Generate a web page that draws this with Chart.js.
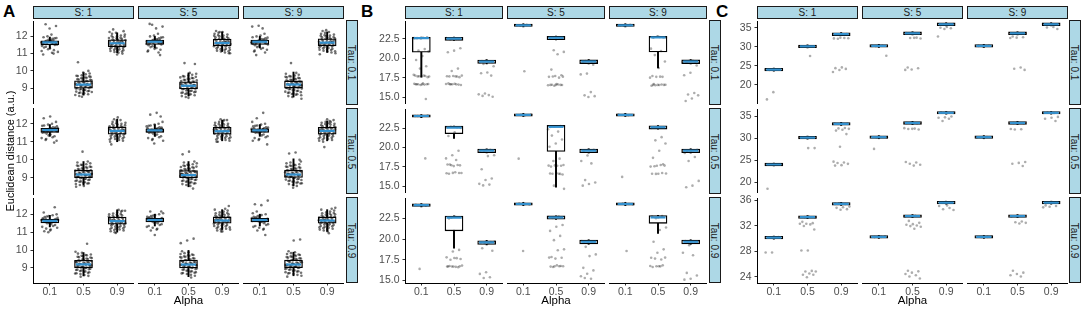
<!DOCTYPE html>
<html>
<head>
<meta charset="utf-8">
<script src="https://cdn.jsdelivr.net/npm/chart.js@4.4.1/dist/chart.umd.min.js"></script>
<style>
    body { margin: 0; width: 1084px; height: 309px; overflow: hidden; position: relative; background: #fff;
           font-family: 'Liberation Sans', Arial, sans-serif; }
    canvas { position: absolute; }
    .strip { position: absolute; box-sizing: border-box; background: #add8e6; border: 1.5px solid #1a1a1a;
             font-size: 10px; color: #1a1a1a; display: flex; align-items: center; justify-content: center; }
    .strip.v span { transform: rotate(90deg); white-space: nowrap; }
    .tag { position: absolute; top: 2px; font-weight: bold; font-size: 17px; color: #000; }
</style>
</head>
<body>
<script>
// ---- labels ----
const alphaLabels = ['0.1', '0.5', '0.9'];
const sLabels = ['S: 1', 'S: 5', 'S: 9'];
const tauLabels = ['Tau: 0.1', 'Tau: 0.5', 'Tau: 0.9'];

// y tick labels per panel and row
const tickLabelsA = [['9', '10', '11', '12'], ['9', '10', '11', '12'], ['9', '10', '11', '12']];
const tickLabelsB = [['15.0', '17.5', '20.0', '22.5'], ['15.0', '17.5', '20.0', '22.5'], ['15.0', '17.5', '20.0', '22.5']];
const tickLabelsC = [['20', '25', '30', '35'], ['20', '25', '30', '35'], ['24', '28', '32', '36']];

// y ranges per row [min, max]
const rangesA = [[8.1, 12.87], [8.1, 12.87], [8.15, 12.9]];
const rangesB = [[14.2, 24.76], [14.15, 24.97], [14.7, 24.93]];
const rangesC = [[15.07, 36.69], [17.6, 36.67], [23.0, 36.3]];

// box stats [lower whisker, q1, median, q3, upper whisker], indexed [tau][s][alpha]
const boxA = [
    [[[11.3, 11.5, 11.65, 11.74, 11.95], [8.6, 9.0, 9.2, 9.42, 9.9], [11.05, 11.4, 11.6, 11.8, 12.2]],
     [[11.3, 11.5, 11.65, 11.74, 11.95], [8.6, 9.0, 9.18, 9.4, 9.9], [11.1, 11.42, 11.58, 11.8, 12.2]],
     [[11.3, 11.5, 11.65, 11.74, 11.95], [8.55, 9.05, 9.25, 9.45, 9.95], [11.05, 11.42, 11.6, 11.82, 12.2]]],
    [[[11.3, 11.52, 11.65, 11.74, 11.95], [8.6, 9.0, 9.18, 9.42, 9.9], [11.0, 11.42, 11.6, 11.82, 12.25]],
     [[11.3, 11.52, 11.63, 11.72, 11.95], [8.5, 9.0, 9.15, 9.4, 9.9], [11.05, 11.42, 11.58, 11.8, 12.2]],
     [[11.3, 11.52, 11.63, 11.72, 11.95], [8.55, 9.02, 9.18, 9.42, 10.05], [11.05, 11.42, 11.6, 11.8, 12.15]]],
    [[[11.3, 11.52, 11.63, 11.72, 11.95], [8.55, 9.0, 9.2, 9.42, 9.85], [11.0, 11.45, 11.62, 11.85, 12.25]],
     [[11.3, 11.52, 11.63, 11.72, 11.95], [8.5, 8.98, 9.17, 9.42, 9.95], [11.1, 11.45, 11.6, 11.8, 12.2]],
     [[11.3, 11.52, 11.63, 11.72, 11.95], [8.55, 9.0, 9.17, 9.42, 9.85], [11.0, 11.45, 11.6, 11.8, 12.2]]]
];

const boxB = [
    [[[17.6, 20.8, 22.6, 22.72, 22.75], [22.3, 22.32, 22.55, 22.72, 22.75], [19.3, 19.35, 19.6, 19.8, 19.85]],
     [[23.9, 23.95, 24.1, 24.25, 24.3], [22.3, 22.32, 22.55, 22.72, 22.75], [19.3, 19.35, 19.6, 19.8, 19.85]],
     [[23.9, 23.95, 24.1, 24.25, 24.3], [18.8, 20.8, 22.6, 22.72, 22.75], [19.3, 19.35, 19.6, 19.8, 19.85]]],
    [[[23.9, 23.95, 24.1, 24.25, 24.3], [21.2, 21.8, 22.6, 22.78, 22.8], [19.3, 19.35, 19.6, 19.8, 19.85]],
     [[23.9, 23.95, 24.1, 24.25, 24.3], [15.0, 19.5, 22.6, 22.78, 22.8], [19.3, 19.35, 19.6, 19.8, 19.85]],
     [[23.9, 23.95, 24.1, 24.25, 24.3], [22.3, 22.32, 22.55, 22.72, 22.75], [19.3, 19.35, 19.6, 19.8, 19.85]]],
    [[[23.9, 23.95, 24.1, 24.25, 24.3], [18.9, 21.0, 22.6, 22.78, 22.8], [19.3, 19.35, 19.6, 19.8, 19.85]],
     [[23.9, 23.95, 24.1, 24.25, 24.3], [22.25, 22.28, 22.5, 22.68, 22.7], [19.3, 19.35, 19.6, 19.8, 19.85]],
     [[23.9, 23.95, 24.1, 24.25, 24.3], [20.6, 21.8, 22.5, 22.72, 22.75], [19.3, 19.35, 19.6, 19.8, 19.85]]]
];

const boxC = [
    [[[23.6, 23.65, 24.0, 24.35, 24.4], [29.7, 29.75, 30.1, 30.45, 30.5], [32.9, 32.95, 33.3, 33.65, 33.7]],
     [[29.7, 29.75, 30.1, 30.45, 30.5], [32.9, 32.95, 33.3, 33.65, 33.7], [35.2, 35.25, 35.6, 35.95, 36.0]],
     [[29.7, 29.75, 30.1, 30.45, 30.5], [32.9, 32.95, 33.3, 33.65, 33.7], [35.2, 35.25, 35.6, 35.95, 36.0]]],
    [[[23.7, 23.75, 24.05, 24.35, 24.4], [29.85, 29.9, 30.2, 30.5, 30.55], [33.0, 33.05, 33.35, 33.65, 33.7]],
     [[29.85, 29.9, 30.2, 30.5, 30.55], [33.0, 33.05, 33.35, 33.65, 33.7], [35.3, 35.35, 35.6, 35.85, 35.9]],
     [[29.85, 29.9, 30.2, 30.5, 30.55], [33.0, 33.05, 33.35, 33.65, 33.7], [35.3, 35.35, 35.6, 35.85, 35.9]]],
    [[[29.9, 29.93, 30.13, 30.33, 30.36], [33.12, 33.15, 33.35, 33.55, 33.58], [35.19, 35.22, 35.42, 35.62, 35.65]],
     [[29.9, 29.93, 30.13, 30.33, 30.36], [33.12, 33.15, 33.35, 33.55, 33.58], [35.19, 35.22, 35.42, 35.62, 35.65]],
     [[29.9, 29.93, 30.13, 30.33, 30.36], [33.12, 33.15, 33.35, 33.55, 33.58], [35.19, 35.22, 35.42, 35.62, 35.65]]]
];

// jittered observations. Panel A: dense clouds shared by all facets, plus each facet's stray points
const cloudA01 = [11.65, 11.6, 11.7, 11.62, 11.68, 11.55, 11.75, 11.58, 11.66, 11.71, 11.63, 11.5, 11.8, 11.45,
    11.85, 11.4, 11.9, 11.3, 11.95, 11.2, 12.0, 11.1, 12.1, 11.67, 11.61, 11.69, 11.64, 11.57, 11.74, 11.52,
    11.78, 11.35, 11.88, 11.25, 11.15, 11.05];
const cloudA05 = [9.2, 9.15, 9.25, 9.1, 9.3, 9.05, 9.35, 9.0, 9.4, 8.95, 9.45, 8.9, 9.5, 8.85, 9.55, 8.8, 9.6,
    8.75, 9.65, 8.7, 9.7, 8.65, 9.75, 8.6, 9.8, 8.55, 9.85, 9.9, 9.18, 9.22, 9.12, 9.28, 9.08, 9.33, 9.02, 9.38,
    8.98, 9.42, 8.92, 9.48, 8.88, 9.52, 8.82, 9.58, 8.78, 9.62, 8.72, 9.68, 8.68, 9.72, 9.21, 9.16, 9.07, 9.31];
const cloudA09 = [11.6, 11.55, 11.65, 11.5, 11.7, 11.45, 11.75, 11.4, 11.8, 11.35, 11.85, 11.3, 11.9, 11.25,
    11.95, 11.2, 12.0, 11.15, 12.05, 11.1, 12.1, 11.05, 12.15, 11.0, 12.2, 12.25, 11.58, 11.62, 11.52, 11.68,
    11.48, 11.72, 11.42, 11.78, 11.38, 11.82, 11.32, 11.88, 11.28, 11.92, 11.22, 11.98, 11.18, 12.02, 11.12,
    11.61, 11.57, 11.66];
const strayA = [
    [[[12.7, 12.6, 12.45, 10.95, 11.0], [10.5, 10.0, 8.5], [12.4, 12.3, 10.95]],
     [[12.6, 12.5, 12.4, 12.65, 10.9], [10.45, 10.4, 8.5], [12.2, 11.0]],
     [[12.55, 12.5, 12.4, 10.9], [10.45, 8.45], [12.3, 10.95]]],
    [[[12.4, 12.3, 10.95], [10.45, 8.5], [12.35, 10.85]],
     [[12.6, 12.5, 12.4, 10.9], [10.45, 10.3, 8.4], [12.2, 11.0]],
     [[12.6, 12.3, 10.85], [10.4, 10.35, 10.0, 8.45], [12.1, 10.7]]],
    [[[12.4, 11.0], [10.35, 8.5], [12.2, 10.95]],
     [[12.1, 10.8], [10.6, 10.5, 10.35, 8.45], [12.4, 11.0]],
     [[12.7, 12.45, 12.5, 10.8], [10.55, 10.5, 8.5], [12.3, 10.9]]]
];
const pointsA = strayA.map(row => row.map(col => col.map((extra, a) => [...[cloudA01, cloudA05, cloudA09][a], ...extra])));

const pointsB = [
    [[[22.6, 22.65, 22.6, 22.7, 22.55, 22.6, 21.2, 21.0, 20.9, 20.3, 19.8, 19.0, 18.7, 17.9, 17.8, 17.7, 17.6, 17.7, 17.8, 17.75, 17.72, 17.68, 16.8, 16.7, 16.7, 16.6, 16.75, 16.65, 16.7, 16.72, 16.68, 16.7, 14.8],
      [22.5, 22.55, 22.6, 22.5, 22.45, 21.3, 21.0, 20.8, 18.7, 18.4, 17.8, 17.7, 17.7, 17.6, 17.75, 17.72, 17.68, 16.7, 16.6, 16.75, 16.8, 16.65, 16.7, 16.72, 16.68, 16.7],
      [19.6, 19.65, 19.55, 19.7, 19.5, 19.6, 19.3, 19.0, 18.2, 18.1, 17.8, 15.5, 15.4, 15.3, 15.2, 15.1]],
     [[24.1, 24.15, 24.05, 24.1, 18.4],
      [22.5, 22.55, 22.6, 22.5, 21.0, 20.8, 20.5, 18.6, 17.9, 17.8, 17.7, 17.6, 17.75, 17.72, 16.8, 16.7, 16.7, 16.6, 16.65, 16.75, 16.72, 16.68, 16.7],
      [19.6, 19.65, 19.55, 19.7, 19.5, 19.2, 18.1, 18.0, 15.8, 15.4, 15.3, 15.2]],
     [[24.1, 24.15, 24.05, 24.1],
      [22.6, 22.65, 22.55, 22.6, 22.7, 21.2, 20.9, 20.4, 19.6, 18.8, 17.8, 17.7, 17.7, 17.6, 17.72, 16.8, 16.7, 16.7, 16.6, 16.75, 16.65, 16.72, 16.68, 16.7],
      [19.6, 19.65, 19.55, 19.7, 19.5, 19.1, 18.2, 17.9, 15.7, 15.5, 15.4, 15.0, 14.7]]],
    [[[24.1, 24.15, 24.05, 24.1, 18.6],
      [22.6, 22.65, 22.7, 22.55, 22.0, 21.5, 19.6, 19.0, 18.6, 18.4, 17.8, 17.7, 17.6, 17.8, 17.75, 17.72, 16.7, 16.8, 16.6, 16.7, 16.72, 16.68],
      [19.6, 19.65, 19.55, 19.7, 19.5, 19.0, 18.9, 17.2, 16.0, 15.8, 15.3, 15.2, 15.1]],
     [[24.1, 24.15, 24.05, 18.6],
      [22.6, 22.7, 22.65, 22.3, 22.0, 21.5, 21.0, 20.5, 20.1, 18.6, 18.3, 17.8, 17.7, 17.6, 17.7, 17.75, 17.72, 16.7, 16.7, 16.6, 16.8, 16.72, 16.68, 15.2, 14.8],
      [19.6, 19.65, 19.55, 19.7, 19.0, 18.3, 18.0, 15.9, 15.6, 15.4, 15.2]],
     [[24.1, 24.15, 24.05, 16.3],
      [22.5, 22.55, 22.6, 22.45, 21.3, 20.9, 20.5, 19.6, 18.7, 17.9, 17.7, 17.6, 17.8, 17.65, 17.72, 16.7, 16.7, 16.8, 16.68, 16.72],
      [19.6, 19.65, 19.55, 19.7, 19.5, 19.3, 18.8, 18.3, 15.8, 15.2, 15.0]]],
    [[[24.1, 24.15, 24.05, 16.4],
      [22.6, 22.65, 22.7, 22.5, 18.7, 18.5, 17.8, 17.7, 17.5, 17.6, 17.72, 16.7, 16.6, 16.7, 16.8, 16.65, 16.75, 16.72, 16.68, 16.7],
      [19.6, 19.65, 19.55, 19.7, 19.5, 18.9, 18.6, 16.0, 15.8, 15.4, 15.3]],
     [[24.1, 24.15, 24.05, 18.5],
      [22.5, 22.55, 22.6, 22.45, 21.6, 21.4, 20.9, 20.3, 19.8, 18.7, 18.6, 17.8, 17.7, 17.6, 17.72, 16.7, 16.6, 16.7, 16.8, 16.65, 16.72, 16.68],
      [19.6, 19.65, 19.55, 19.7, 19.5, 19.0, 18.1, 17.9, 16.5, 16.2, 15.8, 15.5, 15.2, 15.3]],
     [[24.1, 24.15, 24.05, 18.5],
      [22.5, 22.6, 22.65, 22.4, 21.3, 21.0, 19.6, 18.7, 18.3, 17.7, 17.5, 17.6, 17.72, 16.7, 16.6, 16.8, 16.7, 16.72, 16.68],
      [19.6, 19.65, 19.55, 19.7, 19.5, 19.2, 18.3, 18.0, 15.9, 15.6, 15.2, 15.1]]]
];

const pointsC = [
    [[[24.0, 24.1, 23.9, 24.05, 18.1, 16.2],
      [30.1, 30.15, 30.05, 27.6],
      [33.3, 33.25, 33.35, 32.4, 32.2, 32.3, 32.1, 32.25, 24.6, 24.4, 24.2, 23.9, 23.4]],
     [[30.1, 30.15, 30.05, 27.6],
      [33.3, 33.25, 33.35, 32.2, 32.1, 32.0, 32.15, 24.6, 24.4, 24.1, 24.0],
      [35.6, 35.55, 35.65, 34.9, 34.7, 34.6, 34.4, 32.5]],
     [[30.1, 30.15, 30.05],
      [33.3, 33.25, 32.5, 32.3, 32.2, 32.1, 24.6, 24.3, 24.0],
      [35.6, 35.55, 35.65, 34.9, 34.8, 34.4]]],
    [[[24.05, 24.1, 24.0, 18.5],
      [30.2, 30.15, 30.25, 27.8, 27.8],
      [33.35, 33.3, 33.4, 32.4, 32.3, 32.2, 32.0, 31.8, 31.0, 28.1, 24.7, 24.5, 24.4, 24.2, 23.9, 23.8]],
     [[30.2, 30.15, 30.25, 27.6],
      [33.35, 33.3, 33.4, 32.2, 32.1, 32.0, 31.9, 32.05, 24.7, 24.6, 24.3, 24.1, 23.9],
      [35.6, 35.55, 35.65, 34.8, 34.6, 34.5, 34.3, 33.8]],
     [[30.2, 30.15, 30.25],
      [33.35, 33.3, 33.4, 32.0, 31.95, 31.9, 24.7, 24.5, 24.3, 23.8],
      [35.6, 35.55, 35.65, 34.7, 34.5, 34.3, 33.8]]],
    [[[30.13, 30.1, 30.2, 27.8, 27.8],
      [33.35, 33.3, 33.4, 32.6, 32.4, 32.3, 32.3, 32.2, 31.95, 31.4, 28.1, 28.1, 24.9, 24.8, 24.8, 24.5, 24.3, 24.3, 23.9],
      [35.42, 35.4, 35.5, 35.0, 34.9, 34.8, 34.6, 34.5]],
     [[30.13, 30.1, 30.2],
      [33.35, 33.3, 33.4, 32.6, 32.3, 32.1, 32.0, 31.9, 31.8, 31.7, 31.4, 24.9, 24.8, 24.6, 24.4, 24.2, 24.0, 23.7],
      [35.42, 35.4, 35.5, 34.9, 34.6, 34.4, 34.3, 35.0]],
     [[30.13, 30.1, 30.2],
      [33.35, 33.3, 32.5, 32.4, 32.3, 32.2, 24.9, 24.6, 24.4, 24.2, 24.0],
      [35.42, 35.4, 35.5, 35.0, 34.9, 34.8, 34.7]]]
];

// ---- layout ----
const rowTops = [20, 108, 197];
const rowHs = [85, 86, 86];
const panels = [
    { tag: 'A', tagX: 3, cols: [33, 138, 243], colW: 101, axisW: 30, tauX: 346, title: 'Euclidean distance (a.u.)',
      box: boxA, pts: pointsA, ranges: rangesA, ticks: tickLabelsA, dot: 'rgba(0,0,0,0.55)' },
    { tag: 'B', tagX: 361, cols: [405, 507, 609], colW: 98, axisW: 35, tauX: 708.5, title: '',
      box: boxB, pts: pointsB, ranges: rangesB, ticks: tickLabelsB, dot: 'rgba(0,0,0,0.32)' },
    { tag: 'C', tagX: 716, cols: [757, 862, 967], colW: 101, axisW: 34, tauX: 1069, title: '',
      box: boxC, pts: pointsC, ranges: rangesC, ticks: tickLabelsC, dot: 'rgba(0,0,0,0.32)' }
];

Chart.defaults.font.family = "'Liberation Sans', Arial, sans-serif";
const medianColor = '#3391cf';
const jitter = (i, seed) => ((((i + seed) * 0.6180339887) % 1) - 0.5) * 0.5;

function addDiv(cls, text, x, y, w, h) {
    const d = document.createElement('div');
    d.className = cls;
    d.style.left = x + 'px'; d.style.top = y + 'px';
    if (w) { d.style.width = w + 'px'; d.style.height = h + 'px'; }
    d.innerHTML = '<span></span>';
    d.firstChild.textContent = text;
    document.body.appendChild(d);
}

function addFacet(p, r, c) {
    const isLeft = c === 0, isBottom = r === 2;
    const hasTitle = isLeft && r === 1 && !!p.title;
    // padding kept larger than half a tick label so Chart.js does not shrink the plot area;
    // the facet carrying the y title gets extra room so the title is not cut
    const padT = hasTitle ? 60 : 8;
    const padB = hasTitle ? 60 : (isBottom ? 0 : 8);
    const axW = isLeft ? p.axisW : 0;
    const axH = isBottom ? 309 - (rowTops[r] + rowHs[r]) : 0;
    const w = p.colW + axW, h = padT + rowHs[r] + axH + padB;
    const cv = document.createElement('canvas');
    cv.width = w; cv.height = h;
    cv.style.left = (p.cols[c] - axW) + 'px';
    cv.style.top = (rowTops[r] - padT) + 'px';
    document.body.appendChild(cv);

    const box = p.box[r][c], pts = p.pts[r][c], tl = p.ticks[r];
    const seed = (r * 3 + c) * 5;
    new Chart(cv, {
        type: 'scatter',
        data: {
            datasets: [
                { // whiskers
                    type: 'bar', order: 3, grouped: false, barThickness: 1.3, backgroundColor: '#000', borderWidth: 0,
                    data: box.map((b, k) => ({ x: k, y: [b[0], b[4]] }))
                },
                { // boxes
                    type: 'bar', order: 2, grouped: false, barThickness: 18, backgroundColor: '#fff',
                    borderColor: '#000', borderWidth: 1.3, borderSkipped: false,
                    data: box.map((b, k) => ({ x: k, y: [b[1], b[3]] }))
                },
                { // jittered observations
                    type: 'scatter', order: 1, pointRadius: 1.3, pointBorderWidth: 0,
                    pointBackgroundColor: p.dot,
                    data: pts.flatMap((vals, k) => vals.map((v, i) => ({ x: k + jitter(i, seed + k * 11), y: v })))
                },
                { // medians
                    type: 'scatter', order: 0, pointStyle: 'line', pointRadius: 7.5,
                    pointBorderColor: medianColor, pointBorderWidth: 2.2,
                    data: box.map((b, k) => ({ x: k, y: b[2] }))
                }
            ]
        },
        options: {
            responsive: false,
            animation: false,
            devicePixelRatio: 1,
            layout: { padding: { top: padT, bottom: padB, left: 0, right: 0 }, autoPadding: false },
            plugins: { legend: { display: false }, tooltip: { enabled: false } },
            scales: {
                x: {
                    type: 'linear', min: -0.5, max: 2.5, offset: false, display: isBottom,
                    afterBuildTicks: s => { s.ticks = alphaLabels.map((_, i) => ({ value: i })); },
                    afterFit: s => { s.height = axH; },
                    grid: { display: true, offset: false, drawOnChartArea: false, drawTicks: true, tickLength: 2.5, color: '#333' },
                    border: { display: true, color: '#000', width: 1 },
                    ticks: { callback: (v, i) => alphaLabels[i], font: { size: 10.5 }, color: '#4d4d4d',
                             padding: 0, maxRotation: 0, autoSkip: false },
                    title: { display: c === 1, text: 'Alpha', font: { size: 11.5 }, color: '#000',
                             padding: { top: 0, bottom: 1.6 } }
                },
                y: {
                    type: 'linear', min: p.ranges[r][0], max: p.ranges[r][1], beginAtZero: false, display: isLeft,
                    afterBuildTicks: s => { s.ticks = tl.map(t => ({ value: Number(t) })); },
                    afterFit: s => { s.width = axW; },
                    grid: { display: true, drawOnChartArea: false, drawTicks: true, tickLength: 2.5, color: '#333' },
                    border: { display: true, color: '#000', width: 1 },
                    ticks: { callback: (v, i) => tl[i], font: { size: 10.5 }, color: '#4d4d4d', padding: 3, autoSkip: false },
                    title: { display: hasTitle, text: p.title, font: { size: 11 }, color: '#000',
                             padding: { top: 1, bottom: 0 } }
                }
            }
        }
    });
}

panels.forEach(p => {
    addDiv('tag', p.tag, p.tagX, 2);
    p.cols.forEach((x, c) => addDiv('strip', sLabels[c], x, 6, p.colW, 13));
    rowTops.forEach((y, r) => addDiv('strip v', tauLabels[r], p.tauX, y, 12, rowHs[r]));
    for (let r = 0; r < 3; r++) {
        for (let c = 0; c < 3; c++) addFacet(p, r, c);
    }
});
</script>
</body>
</html>
